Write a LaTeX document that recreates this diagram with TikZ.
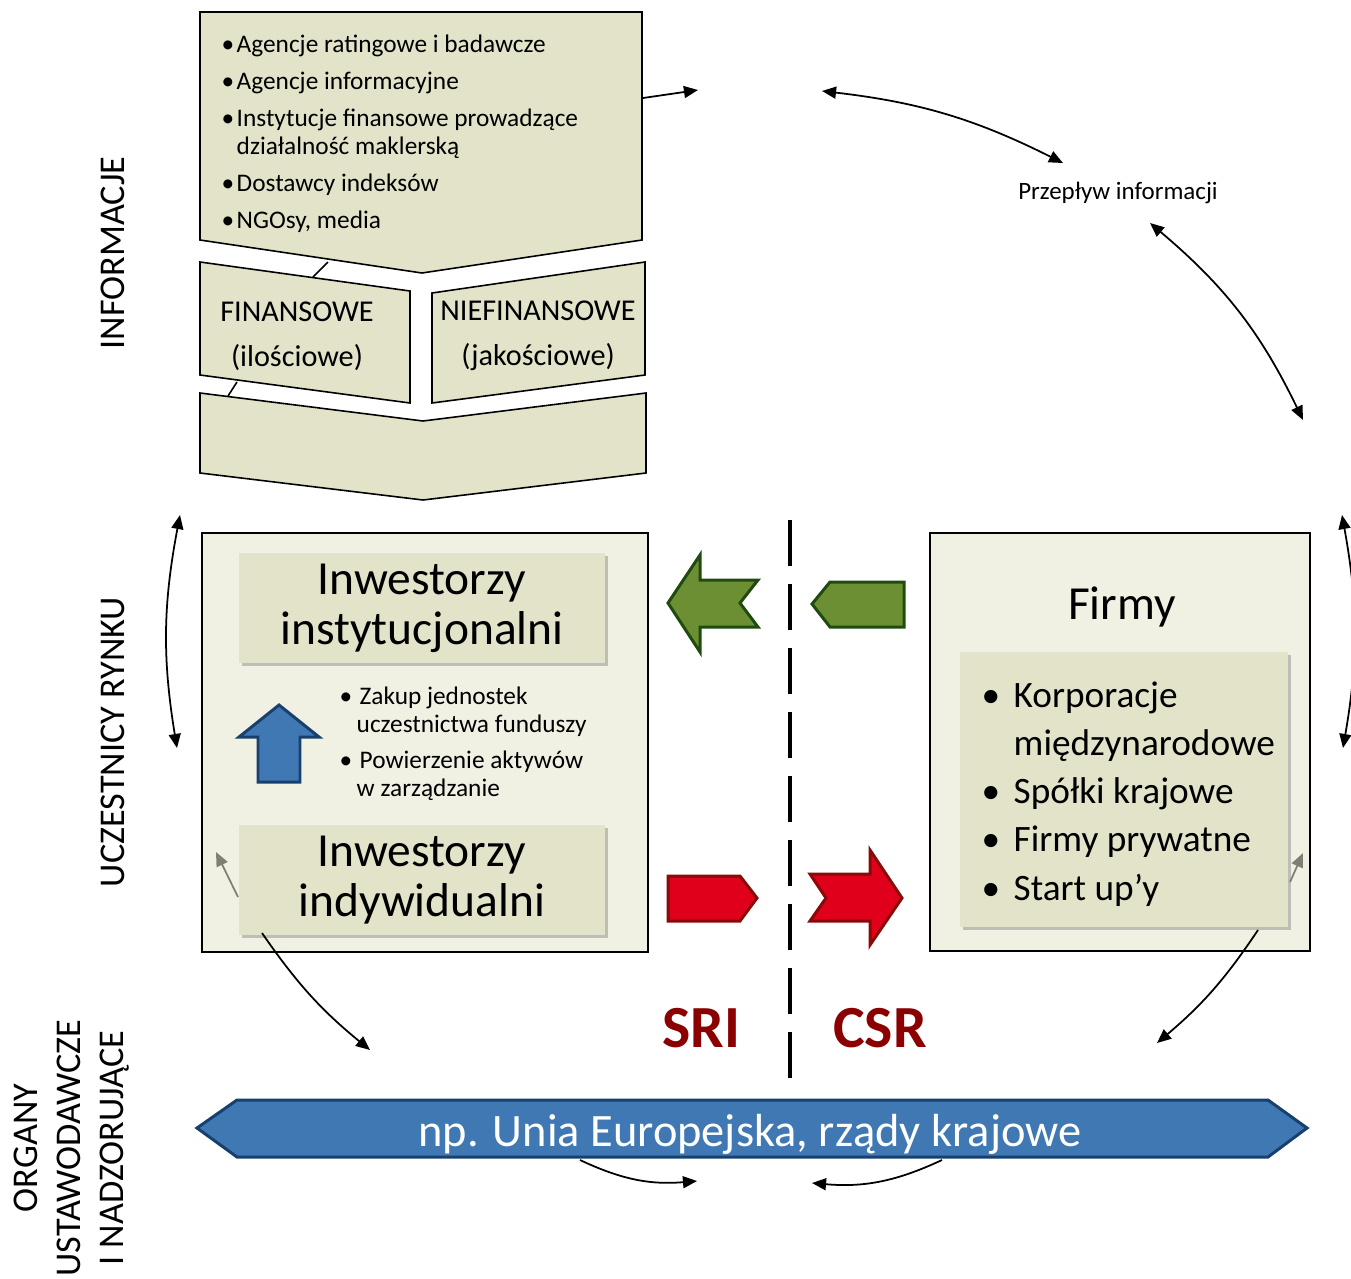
\documentclass[tikz,border=0pt]{standalone}
\usepackage{fontspec}
\setmainfont{Carlito}
\usetikzlibrary{arrows.meta,shadows}
\definecolor{ink}{HTML}{000000}
\definecolor{sand}{HTML}{E3E3CA}
\definecolor{pale}{HTML}{F1F1E3}
\definecolor{leaf}{HTML}{6B8F32}
\definecolor{leafdark}{HTML}{1F4A10}
\definecolor{flame}{HTML}{E1001B}
\definecolor{flamedark}{HTML}{8A0A0A}
\definecolor{sea}{HTML}{4078B4}
\definecolor{seadark}{HTML}{17406F}
\definecolor{wine}{HTML}{8B0000}
\definecolor{ghost}{HTML}{7F7F76}
\newcommand{\bul}[1]{\makebox[#1][l]{\textbullet}}

\begin{document}
\begin{tikzpicture}[
  x=0.01cm, y=-0.01cm,
  panel/.style={draw=ink, line width=0.45pt, fill=sand},
  frame/.style={draw=ink, line width=0.6pt, fill=pale},
  card/.style={fill=sand, inner sep=0pt, align=center, drop shadow={shadow xshift=0.03cm, shadow yshift=-0.03cm, opacity=0.45}},
  side/.style={rotate=90, align=center, font=\fontsize{10.3}{12.2}\selectfont},
  twoway/.style={line width=0.5pt, {Triangle[length=4pt,width=3.4pt]}-{Triangle[length=4pt,width=3.4pt]}},
  oneway/.style={line width=0.5pt, -{Triangle[length=4pt,width=3.4pt]}},
  faint/.style={line width=0.5pt, draw=ghost, -{Triangle[length=4pt,width=3.4pt]}, ghost},
  leafshape/.style={fill=leaf, draw=leafdark, line width=0.85pt},
  flameshape/.style={fill=flame, draw=flamedark, line width=0.85pt},
  seashape/.style={fill=sea, draw=seadark, line width=0.85pt},
  divider/.style={line width=1.3pt, dash pattern=on 13pt off 5.2pt}
]
\useasboundingbox (0,0) rectangle (1351,1278);

% side labels
\node[side] (lab info) at (113,253) {INFORMACJE};
\node[side] (lab market) at (113,742) {UCZESTNICY RYNKU};
\node[side] (lab organs) at (72,1148) {ORGANY\\USTAWODAWCZE\\I NADZORUJĄCE};

% information block
\draw[panel] (200,12) -- (642,12) -- (642,240) -- (422,273) -- (200,240) -- cycle;
\draw[panel] (200,262) -- (410,291) -- (410,403) -- (200,375) -- cycle;
\draw[panel] (432,293) -- (645,262) -- (645,375) -- (432,403) -- cycle;
\draw[panel] (200,393) -- (423,421) -- (646,393) -- (646,473) -- (423,500) -- (200,473) -- cycle;
\draw[line width=0.45pt] (313,277) -- (328,262);
\draw[line width=0.45pt] (228,396) -- (237,382);
\node[anchor=north west, inner sep=0pt, align=left, font=\fontsize{7.2}{8.2}\selectfont] (sources) at (221,34)
  {\bul{1.5mm}Agencje ratingowe i badawcze\\[2.3pt]
   \bul{1.5mm}Agencje informacyjne\\[2.3pt]
   \bul{1.5mm}Instytucje finansowe prowadzące\\
   \hspace*{1.5mm}działalność maklerską\\[2.3pt]
   \bul{1.5mm}Dostawcy indeksów\\[2.3pt]
   \bul{1.5mm}NGOsy, media};
\node[align=center, font=\fontsize{8.6}{12.8}\selectfont] (fin) at (297,336) {FINANSOWE\\(ilościowe)};
\node[align=center, font=\fontsize{8.6}{12.8}\selectfont] (nonfin) at (538,336) {NIEFINANSOWE\\(jakościowe)};

% flow of information
\coordinate (info out) at (643,98);
\coordinate (info end) at (698,90);
\coordinate (flow a) at (822,91);
\coordinate (flow b) at (1063,163);
\coordinate (flow c) at (1150,223);
\coordinate (flow d) at (1303,420);
\node[font=\fontsize{7.1}{8}\selectfont] (flow) at (1118,193) {Przepływ informacji};
\draw[oneway] (info out) -- (info end);
\draw[twoway] (flow a) to[bend left=10] (flow b);
\draw[twoway] (flow c) to[bend left=12] (flow d);

% market participants
\draw[frame] (202,533) rectangle (648,952);
\draw[frame] (930,533) rectangle (1310,951);
\node[card, minimum width=3.66cm, minimum height=1.09cm, font=\fontsize{13.5}{14.2}\selectfont] (inst) at (422,608) {Inwestorzy\\instytucjonalni};
\node[card, minimum width=3.66cm, minimum height=1.09cm, font=\fontsize{13.5}{14.2}\selectfont] (indiv) at (422,880) {Inwestorzy\\indywidualni};
\draw[seashape] (279,705) -- (319,737) -- (300,737) -- (300,782) -- (258,782) -- (258,737) -- (239,737) -- cycle;
\node[anchor=north west, inner sep=0pt, align=left, font=\fontsize{7.2}{8}\selectfont] (ways) at (339,686)
  {\bul{2.0mm}Zakup jednostek\\
   \hspace*{1.7mm}uczestnictwa funduszy\\[2.3pt]
   \bul{2.0mm}Powierzenie aktywów\\
   \hspace*{1.7mm}w zarządzanie};
\node[font=\fontsize{13.5}{14}\selectfont] (firms) at (1122,607) {Firmy};
\node[card, minimum width=3.28cm, minimum height=2.75cm] (firm card) at (1124,789.5) {};
\node[anchor=north west, inner sep=0pt, align=left, font=\fontsize{10.6}{13.7}\selectfont] (firm list) at (981,681)
  {\bul{3.2mm}Korporacje\\
   \hspace*{3.2mm}międzynarodowe\\
   \bul{3.2mm}Spółki krajowe\\
   \bul{3.2mm}Firmy prywatne\\
   \bul{3.2mm}Start up’y};
\coordinate (left top) at (180,515);
\coordinate (left bot) at (177,748);
\coordinate (right top) at (1342,515);
\coordinate (right bot) at (1343,748);
\draw[twoway] (left top) to[bend right=10] (left bot);
\draw[twoway] (right top) to[bend left=10] (right bot);

% SRI / CSR flows
\draw[leafshape] (668,603) -- (700,555) -- (700,580) -- (758,580) -- (740,603) -- (758,627) -- (700,627) -- (700,652) -- cycle;
\draw[leafshape] (812,604) -- (830,582) -- (904,582) -- (904,627) -- (830,627) -- cycle;
\draw[flameshape] (668,876) -- (740,876) -- (757,898) -- (740,921) -- (668,921) -- cycle;
\draw[flameshape] (810,874) -- (870,874) -- (870,850) -- (902,898) -- (870,945) -- (870,921) -- (810,921) -- (826,898) -- cycle;
\coordinate (sep top) at (790,520);
\coordinate (sep bot) at (790,1078);
\draw[divider] (sep top) -- (sep bot);
\node[text=wine, font=\fontsize{17}{17}\bfseries] (sri) at (701,1028) {SRI};
\node[text=wine, font=\fontsize{17}{17}\bfseries] (csr) at (880,1028) {CSR};

% links to regulators
\coordinate (inv in) at (238,897);
\coordinate (inv tip) at (216,852);
\coordinate (inv out) at (262,933);
\coordinate (inv end) at (370,1050);
\coordinate (firm in) at (1290,882);
\coordinate (firm tip) at (1303,853);
\coordinate (firm out) at (1258,930);
\coordinate (firm end) at (1157,1043);
\draw[faint] (inv in) -- (inv tip);
\draw[faint] (firm in) -- (firm tip);
\draw[oneway] (inv out) to[bend right=8] (inv end);
\draw[oneway] (firm out) to[bend left=8] (firm end);

% regulators
\draw[seashape] (197,1128) -- (237,1100) -- (1268,1100) -- (1307,1128) -- (1268,1157) -- (237,1157) -- cycle;
\node[text=white, font=\fontsize{13.2}{15}\selectfont] (eu) at (750,1134) {np. Unia Europejska, rządy krajowe};
\coordinate (eu left) at (580,1160);
\coordinate (eu mid a) at (697,1181);
\coordinate (eu right) at (942,1160);
\coordinate (eu mid b) at (812,1183);
\draw[oneway] (eu left) to[bend right=15] (eu mid a);
\draw[oneway] (eu right) to[bend left=15] (eu mid b);
\end{tikzpicture}
\end{document}
